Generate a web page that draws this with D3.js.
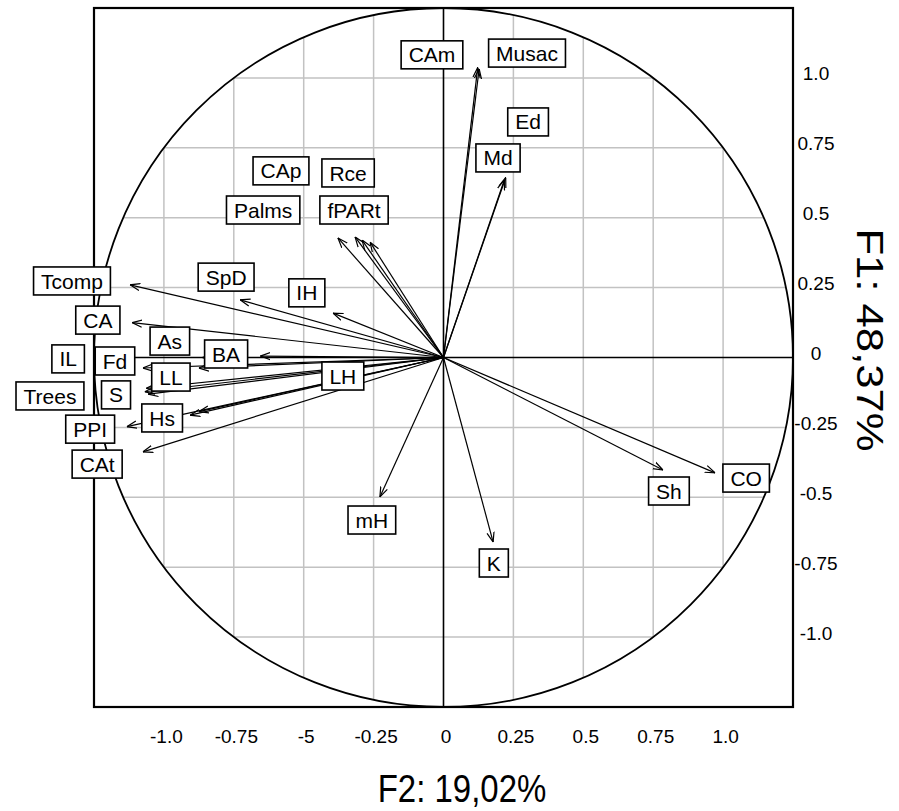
<!DOCTYPE html>
<html>
<head>
<meta charset="utf-8">
<script src="https://d3js.org/d3.v7.min.js"></script>
<style>
  body { margin: 0; background: #fff; }
  svg { display: block; font-family: "Liberation Sans", Arial, sans-serif; }
  .grid line { stroke: #c2c2c2; stroke-width: 1.5px; }
  .lbl rect { fill: #fff; stroke: #000; stroke-width: 1.6px; }
  .lbl text { font-size: 21px; fill: #000; }
  .tick text { font-size: 19px; fill: #000; }
</style>
</head>
<body>
<svg width="899" height="811"></svg>
<script>
// variables of the correlation circle
var variables = ["Tcomp","CA","IL","Fd","Trees","S","PPI","CAt","As","BA","LL","Hs","LH",
                 "SpD","IH","CAp","Rce","Palms","fPARt","CAm","Musac","Ed","Md","mH","K","Sh","CO"];
// loadings on F2 (horizontal) and F1 (vertical)
var loadF2 = [-0.897,-0.891,-0.850,-0.700,-0.855,-0.845,-0.906,-0.860,-0.690,-0.524,-0.860,-0.725,-0.700,
              -0.582,-0.316,-0.253,-0.233,-0.302,-0.210,0.098,0.102,0.178,0.174,-0.182,0.142,0.628,0.777];
var loadF1 = [0.208,0.100,-0.088,-0.030,-0.098,-0.105,-0.198,-0.270,0.000,0.004,-0.030,-0.165,-0.155,
              0.165,0.127,0.345,0.336,0.342,0.330,0.830,0.826,0.515,0.508,-0.399,-0.528,-0.322,-0.330];
// where the label boxes sit, in the same units
var labelF2 = [-1.063,-0.989,-1.074,-0.940,-1.126,-0.937,-1.011,-0.991,-0.783,-0.622,-0.780,-0.805,-0.288,
               -0.622,-0.391,-0.465,-0.273,-0.516,-0.256,-0.033,0.239,0.242,0.156,-0.205,0.144,0.645,0.866];
var labelF1 = [0.219,0.107,-0.004,-0.010,-0.110,-0.107,-0.205,-0.305,0.047,0.010,-0.056,-0.173,-0.053,
               0.230,0.185,0.534,0.528,0.422,0.422,0.866,0.871,0.674,0.571,-0.465,-0.588,-0.382,-0.345];

var gridValues = [-0.8,-0.6,-0.4,-0.2,0.2,0.4,0.6,0.8];
var tickValues = [-0.8,-0.6,-0.4,-0.2,0,0.2,0.4,0.6,0.8];
var xTickLabels = ["-1.0","-0.75","-5","-0.25","0","0.25","0.5","0.75","1.0"];
var yTickLabels = ["-1.0","-0.75","-0.5","-0.25","0","0.25","0.5","0.75","1.0"];

var svg = d3.select("svg");
var x = d3.scaleLinear().domain([-1, 1]).range([94, 793]);
var y = d3.scaleLinear().domain([-1, 1]).range([707, 8]);

// arrow head
svg.append("defs").append("marker")
  .attr("id", "arr")
  .attr("viewBox", "0 -5 10 10")
  .attr("refX", 10).attr("refY", 0)
  .attr("markerWidth", 10).attr("markerHeight", 10)
  .attr("markerUnits", "userSpaceOnUse")
  .attr("orient", "auto")
  .append("path")
    .attr("d", "M0,-3.6L10,0L0,3.6")
    .attr("fill", "none")
    .attr("stroke", "#000")
    .attr("stroke-width", 1.2);

// grid, clipped to the unit circle
var grid = svg.append("g").attr("class", "grid");
grid.selectAll(".gv").data(gridValues).enter().append("line")
  .attr("x1", function(d){ return x(d); })
  .attr("x2", function(d){ return x(d); })
  .attr("y1", function(d){ return y(Math.sqrt(1 - d*d)); })
  .attr("y2", function(d){ return y(-Math.sqrt(1 - d*d)); });
grid.selectAll(".gh").data(gridValues).enter().append("line")
  .attr("y1", function(d){ return y(d); })
  .attr("y2", function(d){ return y(d); })
  .attr("x1", function(d){ return x(-Math.sqrt(1 - d*d)); })
  .attr("x2", function(d){ return x(Math.sqrt(1 - d*d)); });

// circle
svg.append("circle")
  .attr("cx", x(0)).attr("cy", y(0))
  .attr("r", x(1) - x(0))
  .attr("fill", "none").attr("stroke", "#000").attr("stroke-width", 1.8);

// axes through the origin
svg.append("line").attr("x1", x(-1)).attr("x2", x(1)).attr("y1", y(0)).attr("y2", y(0))
  .attr("stroke", "#000").attr("stroke-width", 1.6);
svg.append("line").attr("x1", x(0)).attr("x2", x(0)).attr("y1", y(1)).attr("y2", y(-1))
  .attr("stroke", "#000").attr("stroke-width", 1.6);

// frame
svg.append("rect")
  .attr("x", x(-1)).attr("y", y(1))
  .attr("width", x(1) - x(-1)).attr("height", y(-1) - y(1))
  .attr("fill", "none").attr("stroke", "#000").attr("stroke-width", 2.2);

// tick labels
var xAxis = d3.axisBottom(x).tickValues(tickValues)
  .tickFormat(function(d, i){ return xTickLabels[i]; })
  .tickSize(0).tickPadding(23);
svg.append("g")
  .attr("transform", "translate(2," + y(-1) + ")")
  .call(xAxis)
  .call(function(g){ g.select(".domain").remove(); })
  .selectAll("text").attr("font-family", null).attr("font-size", null);

var yAxis = d3.axisRight(y).tickValues(tickValues)
  .tickFormat(function(d, i){ return yTickLabels[i]; })
  .tickSize(0);
svg.append("g")
  .attr("transform", "translate(" + x(1) + ",-4)")
  .call(yAxis)
  .call(function(g){ g.select(".domain").remove(); })
  .selectAll("text")
    .attr("font-family", null).attr("font-size", null)
    .attr("x", 23).attr("text-anchor", "middle");

// axis titles (the reference is slightly stretched vertically)
svg.append("text")
  .attr("transform", "translate(462,802) scale(1,1.2)")
  .attr("text-anchor", "middle")
  .attr("font-size", 33)
  .text("F2: 19,02%");
svg.append("text")
  .attr("transform", "translate(857,340) rotate(90) scale(1.18,1)")
  .attr("text-anchor", "middle")
  .attr("font-size", 37)
  .text("F1: 48,37%");

// loading arrows
svg.append("g").selectAll("line").data(variables).enter().append("line")
  .attr("x1", x(0)).attr("y1", y(0))
  .attr("x2", function(d, i){ return x(loadF2[i]); })
  .attr("y2", function(d, i){ return y(loadF1[i]); })
  .attr("stroke", "#000").attr("stroke-width", 1.2)
  .attr("marker-end", "url(#arr)");

// labels in boxes
var lbl = svg.append("g").selectAll("g").data(variables).enter().append("g")
  .attr("class", "lbl")
  .attr("transform", function(d, i){ return "translate(" + x(labelF2[i]) + "," + y(labelF1[i]) + ")"; });
lbl.append("rect");
lbl.append("text")
  .attr("text-anchor", "middle")
  .attr("dy", "0.36em")
  .text(function(d){ return d; });
lbl.each(function(){
  var g = d3.select(this);
  var w = g.select("text").node().getComputedTextLength() + 15;
  g.select("rect").attr("x", -w / 2).attr("y", -14).attr("width", w).attr("height", 28);
});
</script>
</body>
</html>
